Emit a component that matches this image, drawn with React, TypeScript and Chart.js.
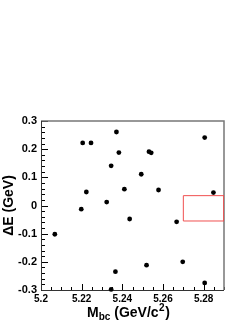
import React, { useEffect, useRef } from "react";
import { Chart, registerables } from "chart.js";

Chart.register(...registerables);

// Data
const mbc = [5.2371, 5.2205, 5.2246, 5.2383, 5.2345, 5.2223, 5.241, 5.2323, 5.2805, 5.2531, 5.2542, 5.2493, 5.2578, 5.2848, 5.2198, 5.2436, 5.2068, 5.2366, 5.2345, 5.2667, 5.2519, 5.2697, 5.2805];
const deltaE = [0.261, 0.222, 0.222, 0.188, 0.141, 0.048, 0.058, 0.012, 0.241, 0.191, 0.187, 0.111, 0.055, 0.046, -0.013, -0.048, -0.102, -0.235, -0.298, -0.058, -0.212, -0.2, -0.275];

// Signal box
const boxMbc = [5.27, 5.29];
const boxDE = [-0.055, 0.035];

// Axes
const X_MIN = 5.2;
const X_MAX = 5.29;
const Y_MIN = -0.3;
const Y_MAX = 0.3;
const xTicks = [5.2, 5.22, 5.24, 5.26, 5.28];
const yTicks = [-0.3, -0.2, -0.1, 0, 0.1, 0.2, 0.3];
const X_MINOR = 0.005;
const Y_MINOR = 0.02;

const fmt = (v: number) => String(Number(v.toFixed(3)));

const framePlugin = {
  id: "rootFrame",
  beforeDatasetsDraw(chart: any) {
    const { ctx, chartArea, scales } = chart;
    const { left, top, right, bottom } = chartArea;
    const xs = scales.x;
    const ys = scales.y;
    ctx.save();
    ctx.strokeStyle = "#000";
    ctx.lineWidth = 1;
    // y ticks (inside, left)
    const ny = Math.round((Y_MAX - Y_MIN) / Y_MINOR);
    for (let i = 0; i <= ny; i++) {
      const v = Y_MIN + i * Y_MINOR;
      const major = i % 5 === 0;
      const py = Math.round(ys.getPixelForValue(v)) + 0.5;
      ctx.beginPath();
      ctx.moveTo(left, py);
      ctx.lineTo(left + (major ? 7 : 4), py);
      ctx.stroke();
    }
    // x ticks (inside, bottom)
    const nx = Math.round((X_MAX - X_MIN) / X_MINOR);
    for (let i = 0; i <= nx; i++) {
      const v = X_MIN + i * X_MINOR;
      const major = i % 4 === 0;
      const px = Math.round(xs.getPixelForValue(v)) + 0.5;
      ctx.beginPath();
      ctx.moveTo(px, bottom);
      ctx.lineTo(px, bottom - (major ? 6 : 3));
      ctx.stroke();
    }
    // frame
    ctx.strokeStyle = "#777";
    ctx.lineWidth = 1.5;
    ctx.beginPath();
    ctx.moveTo(left, top);
    ctx.lineTo(right, top);
    ctx.lineTo(right, bottom);
    ctx.stroke();
    ctx.strokeStyle = "#333";
    ctx.lineWidth = 1;
    ctx.beginPath();
    ctx.moveTo(left + 0.5, top);
    ctx.lineTo(left + 0.5, bottom + 0.5);
    ctx.lineTo(right, bottom + 0.5);
    ctx.stroke();
    ctx.restore();
  },
  afterDraw(chart: any) {
    const { ctx } = chart;
    ctx.save();
    ctx.fillStyle = "#000";
    ctx.textBaseline = "alphabetic";
    const big = "bold 14px 'Liberation Sans', Arial, sans-serif";
    const small = "bold 10px 'Liberation Sans', Arial, sans-serif";
    let x = 87;
    const base = 317;
    ctx.font = big;
    ctx.fillText("M", x, base);
    x += ctx.measureText("M").width;
    ctx.font = small;
    ctx.fillText("bc", x, base + 3);
    x += ctx.measureText("bc").width;
    ctx.font = big;
    ctx.fillText(" (GeV/c", x, base);
    x += ctx.measureText(" (GeV/c").width;
    ctx.font = small;
    ctx.fillText("2", x + 0.5, base - 6);
    x += ctx.measureText("2").width + 1;
    ctx.font = big;
    ctx.fillText(")", x, base);
    ctx.restore();
  },
};

export default function App() {
  const ref = useRef<HTMLCanvasElement | null>(null);
  useEffect(() => {
    if (!ref.current) return;
    const chart = new Chart(ref.current, {
      type: "scatter",
      data: {
        datasets: [
          {
            label: "events",
            data: mbc.map((m, i) => ({ x: m, y: deltaE[i] })),
            backgroundColor: "#000",
            borderColor: "#000",
            pointRadius: 2.4,
            pointBorderWidth: 0,
            clip: false as any,
          },
          {
            label: "box",
            data: [
              { x: boxMbc[0], y: boxDE[1] },
              { x: boxMbc[1], y: boxDE[1] },
              { x: boxMbc[1], y: boxDE[0] },
              { x: boxMbc[0], y: boxDE[0] },
              { x: boxMbc[0], y: boxDE[1] },
            ],
            showLine: true,
            borderColor: "#f05050",
            borderWidth: 1,
            pointRadius: 0,
            fill: false,
          },
        ],
      },
      options: {
        responsive: false,
        animation: false,
        events: [],
        layout: { padding: { left: 0, top: 121, right: 25, bottom: 0 } },
        plugins: { legend: { display: false }, tooltip: { enabled: false } },
        scales: {
          x: {
            type: "linear",
            min: X_MIN,
            max: X_MAX,
            grid: { display: false, drawTicks: false },
            border: { display: false },
            afterBuildTicks: (s: any) => {
              s.ticks = xTicks.map((v) => ({ value: v }));
            },
            afterFit: (s: any) => {
              s.height = 33;
            },
            ticks: {
              autoSkip: false,
              maxRotation: 0,
              padding: 3,
              color: "#000",
              font: { family: "'Liberation Sans', Arial, sans-serif", size: 10, weight: "bold" },
              callback: (v: any) => fmt(Number(v)),
            },
          },
          y: {
            type: "linear",
            min: Y_MIN,
            max: Y_MAX,
            grid: { display: false, drawTicks: false },
            border: { display: false },
            afterBuildTicks: (s: any) => {
              s.ticks = yTicks.map((v) => ({ value: v }));
            },
            afterFit: (s: any) => {
              s.width = 41;
            },
            title: {
              display: true,
              text: "ΔE (GeV)",
              color: "#000",
              padding: { top: 1, bottom: 0 },
              font: { family: "'Liberation Sans', Arial, sans-serif", size: 14, weight: "bold" },
            },
            ticks: {
              autoSkip: false,
              padding: 4,
              color: "#000",
              font: { family: "'Liberation Sans', Arial, sans-serif", size: 11, weight: "bold" },
              callback: (v: any) => fmt(Number(v)),
            },
          },
        },
      },
      plugins: [framePlugin],
    });
    return () => chart.destroy();
  }, []);
  return (
    <div style={{ position: "fixed", left: 0, top: 0, width: 249, height: 323, background: "#fff" }}>
      <canvas ref={ref} width={249} height={323} style={{ display: "block" }} />
    </div>
  );
}
